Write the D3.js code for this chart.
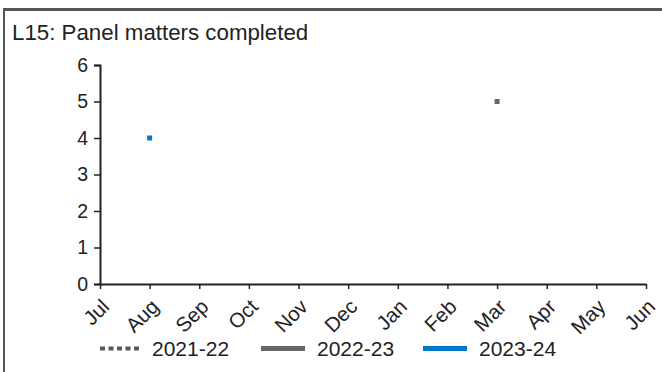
<!DOCTYPE html>
<html>
<head>
<meta charset="utf-8">
<script src="https://cdn.jsdelivr.net/npm/d3@7"></script>
<style>
  html, body { margin: 0; padding: 0; background: #fff; }
  svg { display: block; font-family: "Liberation Sans", Arial, sans-serif; }
</style>
</head>
<body>
<svg id="chart" width="662" height="372"></svg>
<script>
const title = "L15: Panel matters completed";
const months = ["Jul","Aug","Sep","Oct","Nov","Dec","Jan","Feb","Mar","Apr","May","Jun"];
const yTicks = [0,1,2,3,4,5,6];
const seriesNames = ["2021-22","2022-23","2023-24"];
const values2122 = [null,null,null,null,null,null,null,null,null,null,null,null];
const values2223 = [null,null,null,null,null,null,null,null,5,null,null,null];
const values2324 = [null,4,null,null,null,null,null,null,null,null,null,null];
const seriesColors = ["#595959","#666666","#0078C8"];

const svg = d3.select("#chart");

svg.append("rect").attr("x",0).attr("y",0).attr("width",662).attr("height",372).attr("fill","#fff");
svg.append("line").attr("x1",3).attr("x2",662).attr("y1",9.5).attr("y2",9.5).attr("stroke","#555").attr("stroke-width",3);
svg.append("line").attr("x1",4).attr("x2",4).attr("y1",8).attr("y2",372).attr("stroke","#555").attr("stroke-width",2);

svg.append("text").attr("x",12).attr("y",40).attr("font-size",22.3).attr("fill","#222").text(title);

const x = d3.scalePoint().domain(months).range([100,646]);
const y = d3.scaleLinear().domain([0,6]).range([284,65]);

const yAxis = svg.append("g").attr("transform","translate(100,0)")
  .call(d3.axisLeft(y).tickValues(yTicks).tickSize(6).tickPadding(6).tickFormat(d3.format("d")));
yAxis.select(".domain").attr("stroke","#222").attr("stroke-width",2);
yAxis.selectAll(".tick line").attr("stroke","#222").attr("stroke-width",1.5);
yAxis.selectAll(".tick text").attr("font-size",19.5).attr("fill","#222")
  .attr("font-family","'Liberation Sans', Arial, sans-serif");

const xAxis = svg.append("g").attr("transform","translate(0,284)")
  .call(d3.axisBottom(x).tickSize(5).tickSizeOuter(0));
xAxis.select(".domain").attr("stroke","#222").attr("stroke-width",2);
xAxis.selectAll(".tick line").attr("stroke","#222").attr("stroke-width",1.5);
xAxis.selectAll(".tick text")
  .attr("font-size",20.5).attr("fill","#222")
  .attr("font-family","'Liberation Sans', Arial, sans-serif")
  .attr("text-anchor","end")
  .attr("dy",0).attr("y",0)
  .attr("transform","translate(10,24) rotate(-45)");

const allSeries = [values2122, values2223, values2324];
allSeries.forEach((vals, i) => {
  const pts = months.map((m,j)=>({m, v: vals[j]}));
  const line = d3.line().defined(d=>d.v!=null).x(d=>x(d.m)).y(d=>y(d.v));
  svg.append("path").datum(pts).attr("d",line).attr("fill","none")
    .attr("stroke",seriesColors[i]).attr("stroke-width",4)
    .attr("stroke-dasharray", i===0 ? "4,3" : null);
  pts.forEach((d,j)=>{
    if (d.v==null) return;
    const prev = j>0 ? pts[j-1].v : null;
    const next = j<pts.length-1 ? pts[j+1].v : null;
    if (prev==null && next==null) {
      svg.append("rect").attr("x",x(d.m)-2.5).attr("y",y(d.v)-2.5)
        .attr("width",5).attr("height",5).attr("fill",seriesColors[i]);
    }
  });
});

const legendItems = [
  {name: seriesNames[0], x1:100, x2:140, dash:"5,3.5", w:4},
  {name: seriesNames[1], x1:261, x2:305, dash:null, w:5},
  {name: seriesNames[2], x1:423, x2:467, dash:null, w:5}
];
legendItems.forEach((it,i)=>{
  svg.append("line").attr("x1",it.x1).attr("x2",it.x2).attr("y1",348.5).attr("y2",348.5)
    .attr("stroke",seriesColors[i]).attr("stroke-width",it.w).attr("stroke-dasharray",it.dash);
  svg.append("text").attr("x",it.x2+12).attr("y",356).attr("font-size",21).attr("fill","#222").text(it.name);
});
</script>
</body>
</html>
